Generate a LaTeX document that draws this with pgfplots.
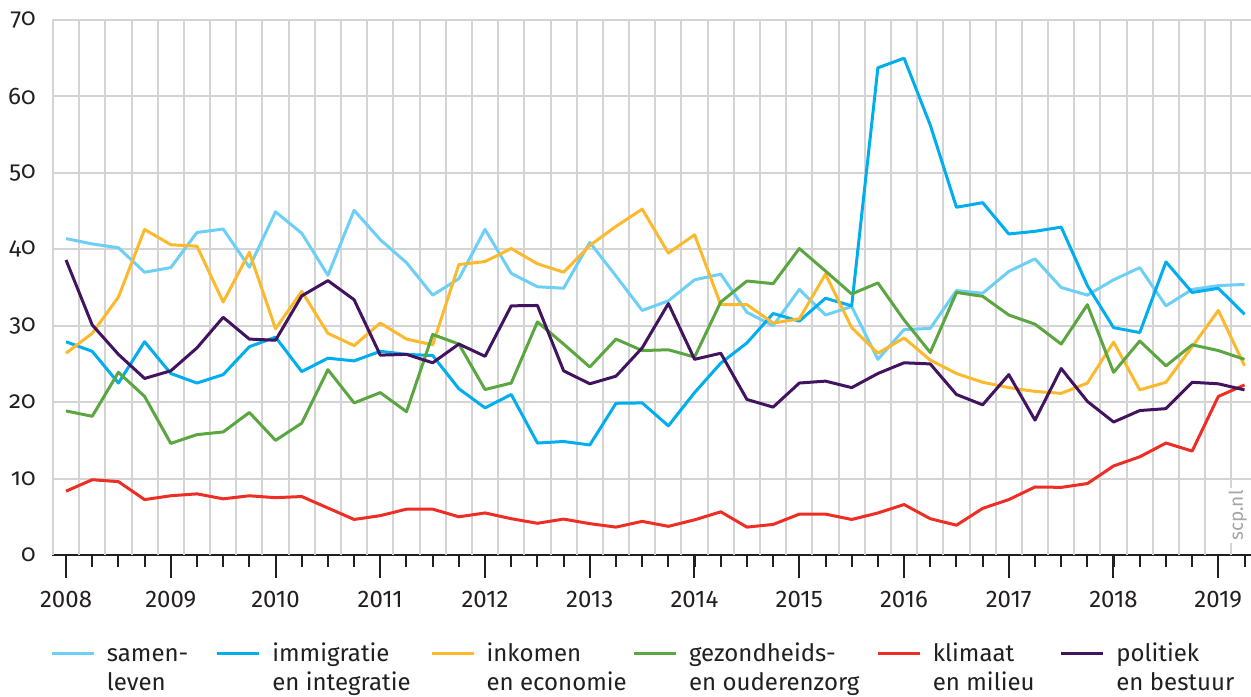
\documentclass[border=0pt]{standalone}
\usepackage{pgfplots}
\pgfplotsset{compat=1.18}
\usepackage{pgfplotstable}
\usepackage{fontspec}
\setmainfont{Fira Sans}
\newfontfamily\oldnum{Fira Sans}[Numbers=OldStyle]

\definecolor{samen}{HTML}{6DCFF6}
\definecolor{immi}{HTML}{00AEEF}
\definecolor{inkomen}{HTML}{FDB92E}
\definecolor{gezond}{HTML}{5BA641}
\definecolor{klimaat}{HTML}{EE2D24}
\definecolor{politiek}{HTML}{42145F}
\definecolor{gridgray}{HTML}{D4D4D4}
\definecolor{axisblack}{HTML}{231F20}

% kwartaalcijfers, 2008-2019
\pgfplotstableread{
t       samen  immi   inkomen gezond klimaat politiek
2008.00 41.4   27.9   26.4    18.85  8.35    38.6
2008.25 40.7   26.65  29.0    18.15  9.85    30.1
2008.50 40.2   22.5   33.75   23.9   9.6     26.25
2008.75 37.0   27.9   42.6    20.75  7.25    23.1
2009.00 37.6   23.75  40.6    14.6   7.75    24.1
2009.25 42.2   22.5   40.4    15.75  8.0     27.1
2009.50 42.65  23.6   33.1    16.1   7.35    31.1
2009.75 37.65  27.25  39.6    18.65  7.75    28.25
2010.00 44.9   28.5   29.6    15.0   7.5     28.1
2010.25 42.1   24.0   34.5    17.25  7.65    33.9
2010.50 36.6   25.75  29.0    24.25  6.15    35.9
2010.75 45.1   25.4   27.4    19.9   4.65    33.4
2011.00 41.25  26.65  30.35   21.25  5.15    26.15
2011.25 38.25  26.25  28.25   18.75  6.0     26.25
2011.50 34.0   26.1   27.5    28.85  6.0     25.15
2011.75 36.15  21.75  38.0    27.6   5.0     27.6
2012.00 42.6   19.25  38.4    21.65  5.5     26.0
2012.25 36.85  21.0   40.1    22.5   4.75    32.6
2012.50 35.1   14.65  38.1    30.5   4.15    32.65
2012.75 34.9   14.85  37.0    27.6   4.7     24.1
2013.00 40.9   14.4   40.5    24.6   4.1     22.4
2013.25 36.5   19.85  43.0    28.25  3.65    23.4
2013.50 32.0   19.9   45.25   26.75  4.4     27.1
2013.75 33.25  16.9   39.5    26.85  3.75    32.9
2014.00 36.0   21.25  41.9    25.9   4.6     25.6
2014.25 36.75  25.1   32.75   33.1   5.65    26.4
2014.50 31.75  27.75  32.75   35.85  3.65    20.35
2014.75 30.0   31.6   30.35   35.5   4.0     19.35
2015.00 34.75  30.6   30.9    40.1   5.35    22.5
2015.25 31.4   33.6   36.75   37.15  5.35    22.75
2015.50 32.5   32.6   29.75   34.15  4.65    21.9
2015.75 25.6   63.75  26.4    35.6   5.5     23.75
2016.00 29.5   65.0   28.4    30.75  6.6     25.15
2016.25 29.65  56.25  25.5    26.5   4.75    25.0
2016.50 34.6   45.5   23.75   34.35  3.9     21.0
2016.75 34.25  46.1   22.6    33.85  6.1     19.65
2017.00 37.1   42.0   21.9    31.4   7.25    23.6
2017.25 38.75  42.35  21.4    30.2   8.9     17.65
2017.50 35.0   42.9   21.15   27.6   8.85    24.4
2017.75 34.0   35.25  22.5    32.75  9.35    20.1
2018.00 36.0   29.75  27.85   23.9   11.65   17.4
2018.25 37.6   29.1   21.6    28.0   12.85   18.9
2018.50 32.6   38.35  22.6    24.75  14.65   19.15
2018.75 34.75  34.35  27.25   27.5   13.6    22.6
2019.00 35.25  34.9   32.0    26.75  20.75   22.4
2019.25 35.4   31.5   24.75   25.6   22.25   21.6
}\onderwerpen

\begin{document}
\begin{tikzpicture}
\begin{axis}[
    at={(0,0)}, anchor=south west,
    scale only axis, width=599.5pt, height=267.5pt,
    xmin=2007.866, xmax=2019.312,
    ymin=0, ymax=70,
    axis x line*=bottom, axis y line*=left,
    x axis line style={-, line width=1.1pt, color=axisblack},
    y axis line style={draw=none},
    xtick={2008,...,2019},
    minor xtick={2008,2008.25,...,2019.25},
    xtick align=outside, ytick align=inside,
    major tick length=11.5pt, minor tick length=6pt,
    xtick style={line width=1pt, color=axisblack},
    ytick={0,10,...,70},
    ytick style={draw=none},
    ymajorgrids,
    major grid style={line width=1pt, color=gridgray},
    extra x ticks={2007.875,2008.125,...,2019.125},
    extra x tick labels={},
    extra x tick style={grid=major, major tick length=0pt},
    /pgf/number format/assume math mode=true,
    /pgf/number format/1000 sep={},
    xticklabel style={font=\fontsize{12}{14}\selectfont, anchor=north, inner sep=0pt, yshift=-6.5pt, color=axisblack},
    yticklabel style={font=\oldnum\fontsize{12}{14}\selectfont, anchor=east, inner sep=0pt, xshift=-8pt, color=axisblack},
    every axis plot/.append style={line width=1.5pt, mark=none, line join=round},
    legend columns=6,
    legend image code/.code={
        \draw[#1, line width=1.5pt] (0pt,4pt) -- (21pt,4pt);
        \path[draw=none, fill=none] (0pt,4pt) -- (27.5pt,4pt);
    },
    legend style={at={(-0.00167,-0.16075)}, anchor=north west,
        draw=none, fill=none, inner xsep=0pt, inner ysep=0pt,
        font=\fontsize{12}{14.5}\selectfont, text=axisblack,
        nodes={inner sep=0pt, text height=10pt, text depth=0pt},
        cells={anchor=base west},
        /tikz/every odd column/.style={column sep=0pt},
        /tikz/every even column/.style={column sep=0pt}},
]
\addplot[samen] table[x=t, y=samen] {\onderwerpen};
\addlegendentry{\parbox[t]{54.5pt}{samen-\\leven}}
\addplot[immi] table[x=t, y=immi] {\onderwerpen};
\addlegendentry{\parbox[t]{78.85pt}{immigratie\\en integratie}}
\addplot[inkomen] table[x=t, y=inkomen] {\onderwerpen};
\addlegendentry{\parbox[t]{73pt}{inkomen\\en economie}}
\addplot[gezond] table[x=t, y=gezond] {\onderwerpen};
\addlegendentry{\parbox[t]{93.65pt}{gezondheids-\\en ouderenzorg}}
\addplot[klimaat] table[x=t, y=klimaat] {\onderwerpen};
\addlegendentry{\parbox[t]{63.5pt}{klimaat\\en milieu}}
\addplot[politiek] table[x=t, y=politiek] {\onderwerpen};
\addlegendentry{\parbox[t]{60pt}{politiek\\en bestuur}}

\node[rotate=90, anchor=base west, inner sep=1pt, fill=white, text=black!35,
      font=\fontsize{9.5}{11}\selectfont] at (rel axis cs:0.9933,0.0224) {scp.nl};
\end{axis}
\pgfresetboundingbox
\useasboundingbox (-26pt,-70.5pt) rectangle (599.5pt,277.5pt);
\end{tikzpicture}
\end{document}
